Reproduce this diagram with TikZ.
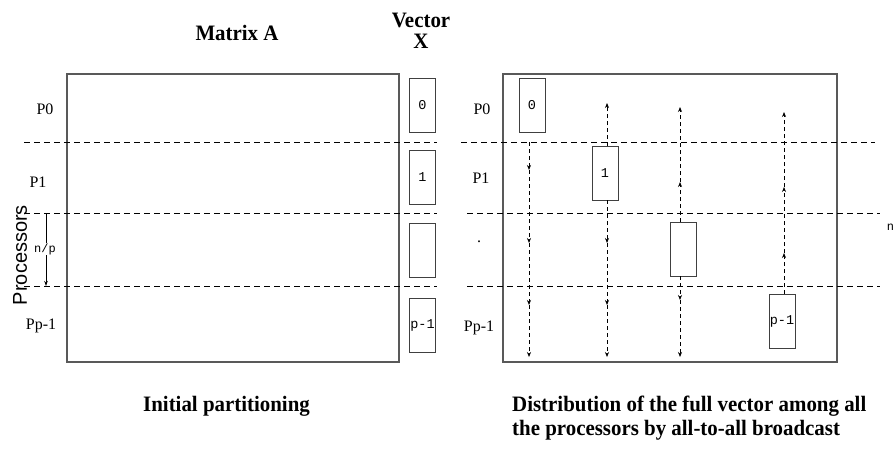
\documentclass[tikz,border=0pt]{standalone}
\usepackage{fontspec}
\setmainfont{Liberation Serif}
\setsansfont{Liberation Sans}
\newfontfamily\monofont{Liberation Mono}
\newfontfamily\headfont{Liberation Serif Bold}[FakeStretch=0.95]
\usetikzlibrary{arrows.meta}

\tikzset{
  frame/.style={draw=black!65, line width=1.2pt, inner sep=0pt, outer sep=0pt, anchor=north west},
  vbox/.style={draw=black!75, line width=0.9pt, minimum width=26pt, minimum height=54pt,
               inner sep=0pt, outer sep=0pt, font=\monofont\fontsize{13.5}{13.5}\selectfont},
  sep/.style={dash pattern=on 6pt off 4pt, line width=0.8pt},
  flow/.style={dash pattern=on 4pt off 3pt, line width=0.7pt,
               -{Stealth[length=5pt,width=4pt]}},
  title/.style={font=\headfont\fontsize{22}{21}\selectfont, inner sep=0pt},
  plabel/.style={font=\fontsize{16}{16}\selectfont, inner sep=0pt},
  small/.style={font=\monofont\fontsize{12}{12}\selectfont, inner sep=0.6pt},
}

\begin{document}
\begin{tikzpicture}[x=1pt, y=-1pt]
\useasboundingbox (0,0) rectangle (893,448);

% ---------------- left: initial partitioning ----------------
\node[frame, minimum width=332pt, minimum height=288pt] (matA) at (67,74) {};
\node[title] (tA) at (237,33) {Matrix A};
\node[title, anchor=base] (tX1) at (421,27) {Vector};
\node[title, anchor=base] (tX2) at (421,48) {X};

\foreach \y/\n in {142/1, 213/2, 286/3} {
  \coordinate (la\n) at (24,\y);
  \coordinate (lb\n) at (437,\y);
  \draw[sep] (la\n) -- (lb\n);
}

\node[vbox] (x0) at (422.5,105) {0};
\node[vbox] (x1) at (422.5,177.5) {1};
\node[vbox] (x2) at (422.5,250) {};
\node[vbox] (x3) at (422.5,325.5) {p-1};

\node[plabel] (lp0) at (45,109) {P0};
\node[plabel] (lp1) at (38,182) {P1};
\node[plabel] (lpp) at (41,326) {Pp-1};

\node[font=\sffamily\fontsize{20}{20}\selectfont, rotate=90, inner sep=0pt] (proc) at (20,255) {Processors};

\coordinate (np1) at (46,213);
\coordinate (np2) at (46,286);
\draw[line width=0.7pt, -{Stealth[length=5pt,width=3.5pt]}] (np1) -- (np2);
\node[small, fill=white] (nplab) at (45,249) {n/p};

\node[title, anchor=base west] (cap1) at (143,411) {Initial partitioning};

% ---------------- right: all-to-all broadcast ----------------
\node[frame, minimum width=334pt, minimum height=288pt] (matB) at (503,74) {};

\coordinate (ra1) at (461,142);  \coordinate (rb1) at (875,142);
\coordinate (ra2) at (467,213);  \coordinate (rb2) at (880,213);
\coordinate (ra3) at (467,286);  \coordinate (rb3) at (880,286);
\foreach \n in {1,2,3} \draw[sep] (ra\n) -- (rb\n);

\node[vbox] (y0) at (532,105) {0};
\node[vbox] (y1) at (605,173) {1};
\node[vbox] (y2) at (683,249) {};
\node[vbox] (y3) at (782,321) {p-1};

\node[plabel] (rp0) at (482,109) {P0};
\node[plabel] (rp1) at (481,178) {P1};
\node[plabel] (rdot) at (479,242) {.};
\node[plabel] (rpp) at (479,328) {Pp-1};

\node[small, anchor=west] (npcut) at (886,227) {n/p};

% column of block 0: downwards
\coordinate (c0s) at (529,142);
\coordinate (c0a) at (529,170);
\coordinate (c0b) at (529,243);
\coordinate (c0c) at (529,305);
\coordinate (c0d) at (529,357);
\draw[flow] (c0s) -- (c0a);
\draw[flow] (c0a) -- (c0b);
\draw[flow] (c0b) -- (c0c);
\draw[flow] (c0c) -- (c0d);

% column of block 1: up and down
\coordinate (c1u) at (607,103);
\coordinate (c1a) at (607,243);
\coordinate (c1b) at (607,305);
\coordinate (c1c) at (607,357);
\draw[flow] (y1.north -| c1u) -- (c1u);
\draw[flow] (y1.south -| c1a) -- (c1a);
\draw[flow] (c1a) -- (c1b);
\draw[flow] (c1b) -- (c1c);

% column of block 2: up and down
\coordinate (c2a) at (680,182);
\coordinate (c2u) at (680,107);
\coordinate (c2b) at (680,300);
\coordinate (c2c) at (680,357);
\draw[flow] (y2.north -| c2a) -- (c2a);
\draw[flow] (c2a) -- (c2u);
\draw[flow] (y2.south -| c2b) -- (c2b);
\draw[flow] (c2b) -- (c2c);

% column of block p-1: upwards
\coordinate (c3a) at (784,253);
\coordinate (c3b) at (784,187);
\coordinate (c3u) at (784,112);
\draw[flow] (y3.north -| c3a) -- (c3a);
\draw[flow] (c3a) -- (c3b);
\draw[flow] (c3b) -- (c3u);

\node[title, anchor=base west] (cap2a) at (512,411) {Distribution of the full vector among all};
\node[title, anchor=base west] (cap2b) at (512,435) {the processors by all-to-all broadcast};
\end{tikzpicture}
\end{document}
